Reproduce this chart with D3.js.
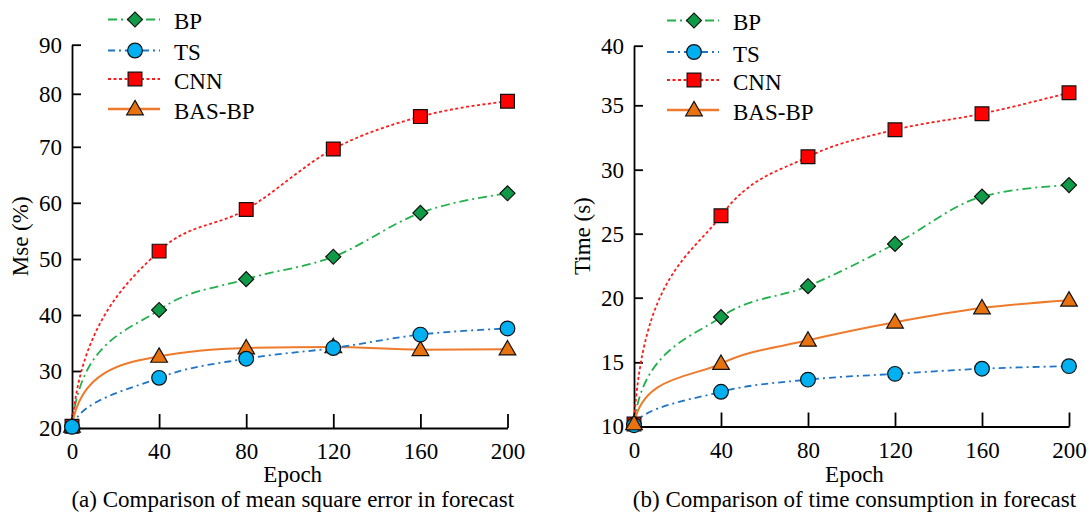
<!DOCTYPE html>
<html>
<head>
<meta charset="utf-8">
<script src="https://cdn.jsdelivr.net/npm/d3@7"></script>
<style>
  body { margin: 0; background: #fff; }
  svg { display: block; }
  text { font-family: "Liberation Serif", "Times New Roman", serif; }
</style>
</head>
<body>
<svg id="chart" width="1090" height="516"></svg>
<script>
// values
var epochs = [0, 40, 80, 120, 160, 200];
var seriesNames = ["BP", "TS", "CNN", "BAS-BP"];

var mseBP    = [20.3, 40.9, 46.4, 50.4, 58.2, 61.7];
var mseTS    = [20.2, 28.8, 32.2, 34.1, 36.5, 37.6];
var mseCNN   = [20.3, 51.4, 58.8, 69.6, 75.7, 78.6];
var mseBASBP = [20.3, 32.6, 34.1, 34.3, 33.8, 33.9];

var timeBP    = [10.2, 18.5, 20.9, 24.2, 27.9, 28.8];
var timeTS    = [10.1, 12.7, 13.65, 14.1, 14.5, 14.7];
var timeCNN   = [10.2, 26.4, 31.0, 33.1, 34.35, 36.05];
var timeBASBP = [10.2, 14.9, 16.7, 18.1, 19.2, 19.8];

var epochTicks = [0, 40, 80, 120, 160, 200];
var mseTicks = [20, 30, 40, 50, 60, 70, 80, 90];
var timeTicks = [10, 15, 20, 25, 30, 35, 40];

// styles per series
var styles = {
  "BP":     { line: "#22b04c", fill: "#0f9a47", dash: "9,4,2,4", sym: "diamond", width: 1.8 },
  "TS":     { line: "#1f74c6", fill: "#00b0f0", dash: "7,4,2,4", sym: "circle",  width: 1.8 },
  "CNN":    { line: "#ff1a1a", fill: "#ff0000", dash: "3,2.5",   sym: "square",  width: 1.8 },
  "BAS-BP": { line: "#ee7a2c", fill: "#e8730e", dash: null,      sym: "triangle", width: 2 }
};

var svg = d3.select("#chart");
var fontSize = 23;
var serif = "Liberation Serif";

function marker(g, sym) {
  var p;
  if (sym == "diamond") {
    p = g.append("path").attr("d", d3.symbol(d3.symbolSquare, 112)());
    p.attr("transform", "rotate(45)");
  } else if (sym == "circle") {
    p = g.append("path").attr("d", d3.symbol(d3.symbolCircle, 170)());
  } else if (sym == "square") {
    p = g.append("path").attr("d", d3.symbol(d3.symbolSquare, 190)());
  } else {
    p = g.append("path").attr("d", d3.symbol(d3.symbolTriangle, 120)()).attr("transform", "translate(0,1)");
  }
  return p;
}

// smooth curve through the points: steep start, monotone-style tangents after
function smoothPath(p, bend) {
  var n = p.length, m = new Array(n), path = d3.path();
  function sgn(v) { return v < 0 ? -1 : 1; }
  for (var i = 1; i < n - 1; i++) {
    var h0 = p[i][0] - p[i-1][0], h1 = p[i+1][0] - p[i][0];
    var s0 = (p[i][1] - p[i-1][1]) / h0, s1 = (p[i+1][1] - p[i][1]) / h1;
    var q = (s0 * h1 + s1 * h0) / (h0 + h1);
    m[i] = (sgn(s0) + sgn(s1)) * Math.min(Math.abs(s0), Math.abs(s1), 0.5 * Math.abs(q)) || 0;
  }
  var hl = p[n-1][0] - p[n-2][0];
  m[n-1] = (3 * (p[n-1][1] - p[n-2][1]) / hl - m[n-2]) / 2;
  path.moveTo(p[0][0], p[0][1]);
  for (var j = 0; j < n - 1; j++) {
    var a = p[j], b = p[j+1], h = b[0] - a[0];
    var c1x, c1y;
    if (j == 0) { c1x = a[0] + 0.1 * h; c1y = a[1] + bend * (b[1] - a[1]); }
    else { c1x = a[0] + h / 3; c1y = a[1] + m[j] * h / 3; }
    path.bezierCurveTo(c1x, c1y, b[0] - h / 3, b[1] - m[j+1] * h / 3, b[0], b[1]);
  }
  return path.toString();
}

function drawPanel(opt) {
  var x = d3.scaleLinear().domain([0, 200]).range([opt.x0, opt.x1]);
  // tick spacing in the figure is not quite even, so map tick by tick
  var y = d3.scaleLinear().domain(opt.yTicks).range(opt.yPix);

  var g = svg.append("g");

  var xa = g.append("g")
    .attr("transform", "translate(0," + opt.yPix[0] + ")")
    .call(d3.axisBottom(x).tickValues(epochTicks).tickSizeInner(-14).tickSizeOuter(0).tickPadding(15));
  var ya = g.append("g")
    .attr("transform", "translate(" + opt.x0 + ",0)")
    .call(d3.axisLeft(y).tickValues(opt.yTicks).tickSizeInner(-9).tickSizeOuter(0).tickPadding(10));

  [xa, ya].forEach(function(a) {
    a.attr("font-family", serif).attr("font-size", fontSize);
    a.selectAll("path.domain").attr("stroke", "#000").attr("stroke-width", 1.8);
    a.selectAll(".tick line").attr("stroke", "#000").attr("stroke-width", 1.8);
    a.selectAll("text").attr("fill", "#000");
  });

  var midX = (opt.x0 + opt.x1) / 2 + 3;
  g.append("text").attr("x", midX).attr("y", 482)
    .attr("text-anchor", "middle").attr("font-family", serif).attr("font-size", fontSize).attr("fill", "#000")
    .text("Epoch");
  g.append("text").attr("x", midX).attr("y", 507)
    .attr("text-anchor", "middle").attr("font-family", serif).attr("font-size", fontSize).attr("fill", "#000")
    .text(opt.title);
  var midY = (opt.yPix[0] + opt.yPix[opt.yPix.length - 1]) / 2;
  g.append("text")
    .attr("transform", "translate(" + (opt.x0 - 52) + "," + midY + ") rotate(-90)")
    .attr("text-anchor", "middle").attr("dominant-baseline", "central")
    .attr("font-family", serif).attr("font-size", fontSize).attr("fill", "#000")
    .text(opt.yLabel);

  opt.order.forEach(function(name) {
    var st = styles[name];
    var pts = epochs.map(function(e, i) { return [x(e), y(opt.values[name][i])]; });
    g.append("path")
      .attr("d", smoothPath(pts, opt.bend[name]))
      .attr("fill", "none")
      .attr("stroke", st.line)
      .attr("stroke-width", st.width)
      .attr("stroke-dasharray", st.dash);
  });
  opt.order.forEach(function(name) {
    var st = styles[name];
    epochs.forEach(function(e, i) {
      var mg = g.append("g").attr("transform", "translate(" + x(e) + "," + y(opt.values[name][i]) + ")");
      marker(mg, st.sym).attr("fill", st.fill).attr("stroke", "#111").attr("stroke-width", 1.2);
    });
  });

  seriesNames.forEach(function(name, i) {
    var st = styles[name];
    var lg = g.append("g").attr("transform", "translate(" + opt.legendX + "," + opt.legendY[i] + ")");
    lg.append("line").attr("x1", 0).attr("x2", 52).attr("y1", 0).attr("y2", 0)
      .attr("stroke", st.line).attr("stroke-width", name == "BAS-BP" ? 2.5 : 1.8)
      .attr("stroke-dasharray", st.dash);
    var mg = lg.append("g").attr("transform", "translate(27,0)");
    marker(mg, st.sym).attr("fill", st.fill).attr("stroke", "#111").attr("stroke-width", 1.2);
    lg.append("text").attr("x", 66).attr("y", 2).attr("dominant-baseline", "central")
      .attr("font-family", serif).attr("font-size", fontSize).attr("fill", "#000").text(name);
  });
}

drawPanel({
  x0: 72, x1: 507.5,
  yTicks: mseTicks,
  yPix: [428, 371, 315, 259, 202.8, 146.8, 93.8, 44.7],
  values: { "BP": mseBP, "TS": mseTS, "CNN": mseCNN, "BAS-BP": mseBASBP },
  bend: { "BP": 0.75, "TS": 0.55, "CNN": 0.6, "BAS-BP": 0.85 },
  order: ["BP", "CNN", "BAS-BP", "TS"],
  yLabel: "Mse (%)",
  title: "(a) Comparison of mean square error in forecast",
  legendX: 108, legendY: [19.5, 50.5, 79, 109]
});

drawPanel({
  x0: 634, x1: 1069,
  yTicks: timeTicks,
  yPix: [426.5, 362.3, 297.7, 233.7, 169.7, 105.3, 45.7],
  values: { "BP": timeBP, "TS": timeTS, "CNN": timeCNN, "BAS-BP": timeBASBP },
  bend: { "BP": 0.7, "TS": 0.55, "CNN": 0.72, "BAS-BP": 0.8 },
  order: ["BP", "CNN", "TS", "BAS-BP"],
  yLabel: "Time (s)",
  title: "(b) Comparison of time consumption in forecast",
  legendX: 667, legendY: [20.5, 52, 80, 110]
});
</script>
</body>
</html>
